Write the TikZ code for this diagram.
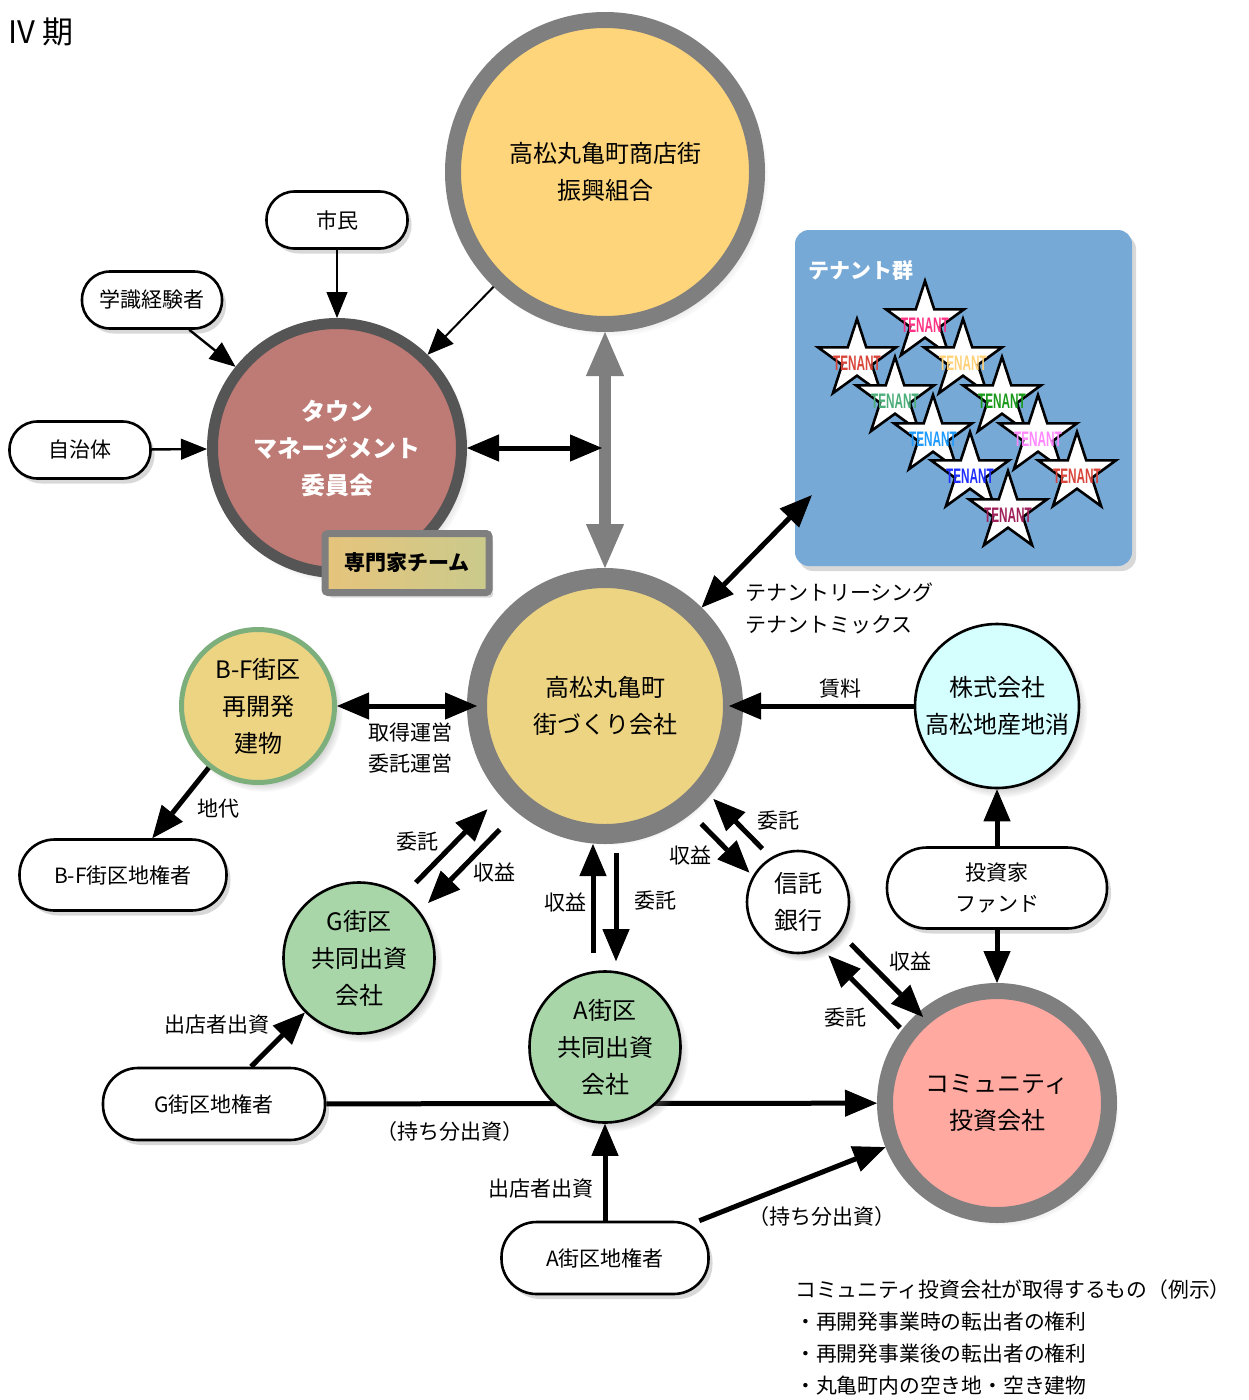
\documentclass[tikz,border=0pt]{standalone}
\usepackage{fontspec}
\setmainfont{Noto Sans CJK JP}
\newfontfamily\tenfont{Liberation Sans}
\usetikzlibrary{arrows.meta,shadows,calc,fadings}
\definecolor{ringG}{HTML}{7F7F7F}
\definecolor{ringD}{HTML}{555555}
\definecolor{kumiaiF}{HTML}{FED57B}
\definecolor{townF}{HTML}{BE7A74}
\definecolor{mcF}{HTML}{EDD483}
\definecolor{bfB}{HTML}{7DAF7C}
\definecolor{kkF}{HTML}{D5FFFF}
\definecolor{cmF}{HTML}{FFA9A1}
\definecolor{grnF}{HTML}{A8D6A8}
\definecolor{tenF}{HTML}{76A9D6}
\definecolor{expL}{HTML}{E6C47C}
\definecolor{expR}{HTML}{CACA8C}
\definecolor{sPink}{HTML}{FF3385}
\definecolor{sRed}{HTML}{D9453A}
\definecolor{sYel}{HTML}{FFD27A}
\definecolor{sTeal}{HTML}{4CAF7A}
\definecolor{sGrn}{HTML}{1A9A1A}
\definecolor{sSky}{HTML}{1E9BFF}
\definecolor{sMag}{HTML}{FF88FF}
\definecolor{sBlue}{HTML}{1F2FFF}
\definecolor{sMar}{HTML}{A0205A}

\newcommand\myC{\fontsize{24}{37}\selectfont}
\newcommand\myL{\fontsize{21}{32}\selectfont}

\newcommand\tstar[4]{%
  \draw[line width=2.6pt, fill=white] ([shift={(#2,#3)}]90:41pt)
    \foreach \ang/\rad in {126/15.7pt,162/41pt,198/15.7pt,234/41pt,270/15.7pt,306/41pt,342/15.7pt,18/41pt,54/15.7pt}{ -- ([shift={(#2,#3)}]\ang:\rad)} -- cycle;
  \node[font=\tenfont\bfseries\fontsize{21}{21}\selectfont, text=#4, inner sep=0pt] (#1) at (#2,#3+3) {\scalebox{0.56}[1]{TENANT}};
}

\begin{document}
\begin{tikzpicture}[x=1pt,y=-1pt,
  ring/.style={circle, inner sep=0pt, align=center, font=\myC},
  cshadow/.style={circular drop shadow={shadow xshift=5pt, shadow yshift=-6pt, shadow scale=1.04, opacity=0.45}},
  bshadow/.style={drop shadow={opacity=0.3, shadow xshift=4pt, shadow yshift=-5pt}},
  pill/.style={draw, line width=2.6pt, fill=white, align=center, font=\myL, inner sep=0pt, bshadow},
  lab/.style={font=\myL, inner sep=0pt, align=center},
  tarr/.style={line width=2.4pt, -{Triangle[length=26pt,width=21pt,line width=1pt]}},
  arr/.style={line width=5pt, -{Triangle[length=32pt,width=27pt,line width=1pt]}},
  darr/.style={line width=5pt, {Triangle[length=32pt,width=27pt,line width=1pt]}-{Triangle[length=32pt,width=27pt,line width=1pt]}},
  garr/.style={line width=12pt, draw=ringG, {Triangle[length=44pt,width=38pt,line width=1pt]}-{Triangle[length=44pt,width=38pt,line width=1pt]}}
]
\useasboundingbox (0,0) rectangle (1248,1400);
\fill[white] (0,0) rectangle (1248,1400);

\node[font=\fontsize{31}{31}\selectfont, anchor=west, inner sep=0pt] (title) at (8,32) {IV 期};

% top circles
\node[ring, minimum size=304pt, line width=16pt, draw=ringG, fill=kumiaiF, cshadow] (kumiai) at (605,172) {高松丸亀町商店街\\振興組合};
\node[ring, minimum size=249pt, line width=11pt, draw=ringD, fill=townF, text=white, font=\myC\bfseries, cshadow] (town) at (337,448) {タウン\\マネージメント\\委員会};
\node[draw=ringG, line width=7pt, left color=expL, right color=expR, minimum width=164pt, minimum height=59pt, rounded corners=3pt, font=\myL\bfseries, inner sep=0pt, bshadow] (expert) at (407,563) {専門家チーム};

\node[pill, minimum width=141pt, minimum height=57pt, rounded corners=28pt] (shimin) at (337,220) {市民};
\node[pill, minimum width=140pt, minimum height=57pt, rounded corners=28pt] (gaku) at (152,300) {学識経験者};
\node[pill, minimum width=141pt, minimum height=57pt, rounded corners=28pt] (jichi) at (80,450) {自治体};

\draw[tarr] (shimin) -- (town);
\draw[tarr] (gaku) -- (town);
\draw[tarr] (jichi) -- (town);
\draw[line width=2pt, -{Triangle[length=26pt,width=22pt,line width=1pt]}] (kumiai) -- (town);

% central company
\node[ring, minimum size=256pt, line width=20pt, draw=ringG, fill=mcF, cshadow] (mc) at (605,706) {高松丸亀町\\街づくり会社};
\draw[garr] (kumiai) -- (mc);
\draw[darr, shorten >=3pt] (town.east) -- (town.east -| kumiai.south);

% tenant box
\node[fill=tenF, rounded corners=14pt, minimum width=337pt, minimum height=336pt, inner sep=0pt, bshadow] (tenant) at (963.5,398) {};
\node[anchor=west, text=white, font=\myL\bfseries, inner sep=0pt] (tentitle) at (808,271) {テナント群};
\tstar{t1}{925}{322}{sPink}
\tstar{t2}{857}{360}{sRed}
\tstar{t3}{963}{360}{sYel}
\tstar{t4}{895}{398}{sTeal}
\tstar{t5}{1002}{398}{sGrn}
\tstar{t6}{933}{436}{sSky}
\tstar{t7}{1038}{436}{sMag}
\tstar{t8}{970}{473}{sBlue}
\tstar{t9}{1077}{473}{sRed}
\tstar{t10}{1008}{512}{sMar}
\draw[darr] (mc) -- ([xshift=17pt,yshift=71pt]tenant.south west);
\node[lab, anchor=west, align=left] (tlab) at (745,608) {テナントリーシング\\テナントミックス};

% B-F
\node[ring, minimum size=153pt, line width=5pt, draw=bfB, fill=mcF, cshadow] (bf) at (258,706) {B-F街区\\再開発\\建物};
\node[pill, minimum width=207pt, minimum height=71pt, rounded corners=35pt] (bfo) at (123,875) {B-F街区地権者};
\draw[darr, shorten >=-10pt] (bf) -- (mc);
\node[lab] (l_bfmc) at (410,748) {取得運営\\委託運営};
\draw[arr] (bf) -- (bfo);
\node[lab] (l_chidai) at (218,809) {地代};

% right side
\node[ring, minimum size=164pt, line width=2.6pt, draw, fill=kkF, cshadow] (kk) at (997,706) {株式会社\\高松地産地消};
\draw[arr, shorten >=-14pt] (kk) -- (mc);
\node[lab] (l_chinryo) at (840,689) {賃料};
\node[pill, minimum width=220pt, minimum height=81pt, rounded corners=40pt, font=\fontsize{21}{31}\selectfont] (fund) at (997,888) {投資家\\ファンド};
\node[ring, minimum size=224pt, line width=16pt, draw=ringG, fill=cmF, cshadow] (cm) at (997,1103) {コミュニティ\\投資会社};
\draw[arr] (fund) -- (kk);
\draw[arr] (fund) -- (cm);
\node[ring, minimum size=102pt, line width=2.6pt, draw, fill=white, cshadow] (tb) at (798,902) {信託\\銀行};

% MC <-> trust bank
\draw[arr] ($(mc)!0.771!(tb)!12pt!90:(tb)$) -- ($(mc)!0.517!(tb)!12pt!90:(tb)$);
\draw[arr] ($(mc)!0.551!(tb)!14pt!-90:(tb)$) -- ($(mc)!0.80!(tb)!14pt!-90:(tb)$);
\node[lab] (l_tb1) at (778,821) {委託};
\node[lab] (l_tb2) at (690,855) {収益};
% trust bank <-> community
\draw[arr] ($(tb)!0.237!(cm)!8pt!90:(cm)$) -- ($(tb)!0.60!(cm)!8pt!90:(cm)$);
\draw[arr] ($(tb)!0.57!(cm)!16pt!-90:(cm)$) -- ($(tb)!0.21!(cm)!16pt!-90:(cm)$);
\node[lab] (l_tb3) at (910,961) {収益};
\node[lab] (l_tb4) at (845,1018) {委託};

% G block
\node[ring, minimum size=151pt, line width=2.6pt, draw, fill=grnF, cshadow] (g) at (359,958) {G街区\\共同出資\\会社};
\draw[arr] ($(g)!0.266!(mc)!12pt!90:(mc)$) -- ($(g)!0.557!(mc)!12pt!90:(mc)$);
\draw[arr] ($(g)!0.54!(mc)!11pt!-90:(mc)$) -- ($(g)!0.249!(mc)!11pt!-90:(mc)$);
\node[lab] (l_g1) at (417,842) {委託};
\node[lab] (l_g2) at (494,872) {収益};
\node[pill, minimum width=222pt, minimum height=72pt, rounded corners=35pt] (go) at (214,1104) {G街区地権者};
\draw[arr] (go) -- (g);
\node[lab] (l_g3) at (217,1025) {出店者出資};
\draw[arr] (go) -- (cm);
\node[lab] (l_g4) at (450,1132) {（持ち分出資）};

% A block
\node[ring, minimum size=151pt, line width=2.6pt, draw, fill=grnF, cshadow] (a) at (605,1047) {A街区\\共同出資\\会社};
\draw[arr, shorten <=17pt] ([xshift=-12pt]a.north) -- ([xshift=-12pt]mc.south);
\draw[arr, shorten <=9pt, shorten >=9pt] ([xshift=11pt]mc.south) -- ([xshift=11pt]a.north);
\node[lab] (l_a1) at (565,902) {収益};
\node[lab] (l_a2) at (655,901) {委託};
\node[pill, minimum width=207pt, minimum height=72pt, rounded corners=35pt] (ao) at (605,1258) {A街区地権者};
\draw[arr] (ao) -- (a);
\node[lab] (l_a3) at (541,1189) {出店者出資};
\draw[arr] (ao) -- (cm);
\node[lab] (l_a4) at (822,1217) {（持ち分出資）};

% note
\node[anchor=north west, align=left, font=\fontsize{20.8}{32}\selectfont, inner sep=0pt] (note) at (795,1279) {コミュニティ投資会社が取得するもの（例示）\\・再開発事業時の転出者の権利\\・再開発事業後の転出者の権利\\・丸亀町内の空き地・空き建物};
\end{tikzpicture}
\end{document}
